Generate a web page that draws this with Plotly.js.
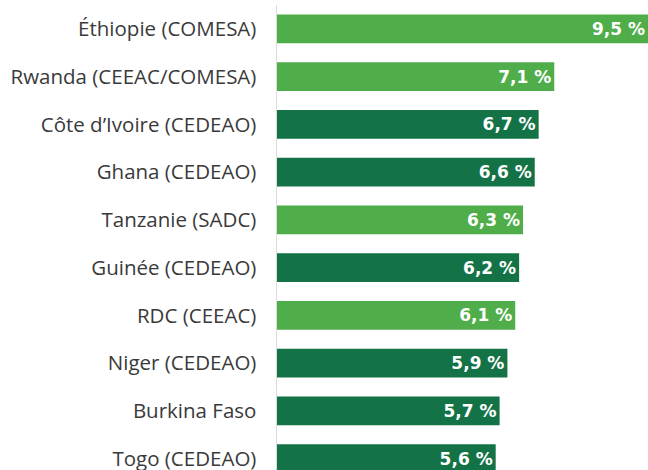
<!DOCTYPE html>
<html>
<head>
<meta charset="utf-8">
<script src="https://cdn.plot.ly/plotly-3.0.1.min.js"></script>
<style>
  html, body { margin: 0; padding: 0; background: #fff; }
  #Graph { width: 648px; height: 470px; }
</style>
</head>
<body>
<div id="Graph"></div>
<script>
var pays = ['Éthiopie (COMESA)', 'Rwanda (CEEAC/COMESA)', 'Côte d’Ivoire (CEDEAO)', 'Ghana (CEDEAO)',
  'Tanzanie (SADC)', 'Guinée (CEDEAO)', 'RDC (CEEAC)', 'Niger (CEDEAO)', 'Burkina Faso', 'Togo (CEDEAO)'];
var croissance = [9.5, 7.1, 6.7, 6.6, 6.3, 6.2, 6.1, 5.9, 5.7, 5.6];
// 1 = vert clair, 0 = vert foncé
var clair = [1, 1, 0, 0, 1, 0, 1, 0, 0, 0];

var couleurs = clair.map(c => c ? '#4fae4a' : '#137347');

var barres = {
  type: 'bar',
  orientation: 'h',
  y: pays,
  x: croissance,
  marker: {color: couleurs},
  texttemplate: '%{x:.1f} %',
  textposition: 'inside',
  insidetextanchor: 'end',
  constraintext: 'none',
  textfont: {family: 'DejaVu Sans', size: 17, color: '#ffffff', weight: 'bold'},
  hoverinfo: 'none'
};

var layout = {
  width: 648,
  height: 470,
  margin: {l: 277, r: 0, t: 5, b: 0},
  separators: ',.',
  bargap: 0.4,
  showlegend: false,
  paper_bgcolor: '#ffffff',
  plot_bgcolor: '#ffffff',
  xaxis: {
    range: [0, 9.5],
    visible: false,
    fixedrange: true
  },
  yaxis: {
    type: 'category',
    categoryorder: 'array',
    categoryarray: pays,
    range: [9.238, -0.5],
    showline: true,
    linecolor: '#dcdcdc',
    linewidth: 1.5,
    showgrid: false,
    ticks: '',
    ticklabelstandoff: 15,
    tickfont: {family: 'Open Sans', size: 20.5, color: '#3a3a3a'}
  }
};

Plotly.newPlot('Graph', [barres], layout, {displayModeBar: false, staticPlot: true});
</script>
</body>
</html>
